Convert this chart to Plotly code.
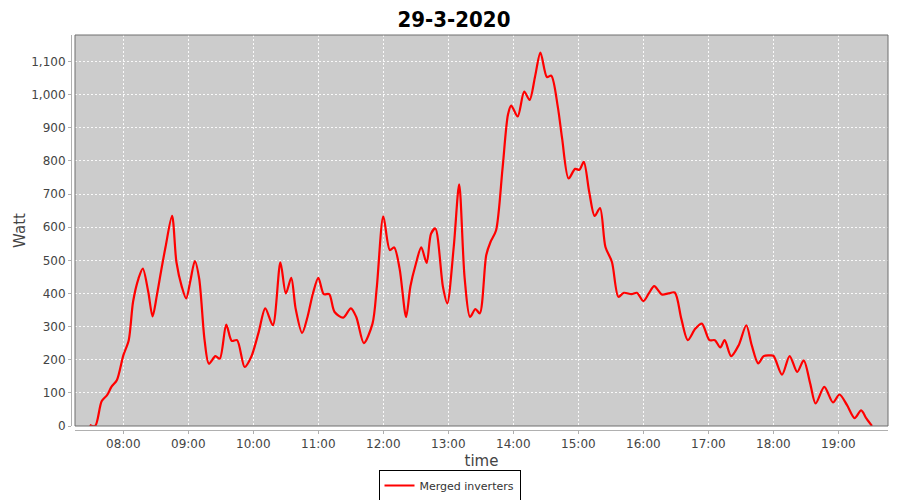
import plotly.graph_objects as go

DAY = "2020-03-29"
times = ["07:29","07:34","07:40","07:45","07:49","07:54","08:00","08:05","08:09","08:14",
         "08:18","08:23","08:27","08:31","08:35","08:39","08:45","08:49","08:54","08:58",
         "09:02","09:06","09:10","09:15","09:19","09:25","09:29","09:35","09:40","09:45",
         "09:52","09:58","10:05","10:11","10:18","10:25","10:30","10:35","10:39","10:45",
         "10:50","10:55","11:00","11:05","11:10","11:15","11:23","11:30","11:35","11:42",
         "11:50","11:54","12:00","12:06","12:10","12:15","12:21","12:25","12:30","12:35",
         "12:40","12:44","12:48","12:55","12:59","13:05","13:10","13:15","13:20","13:25",
         "13:29","13:35","13:39","13:44","13:50","13:55","13:58","14:04","14:10","14:15",
         "14:20","14:25","14:31","14:35","14:41","14:45","14:51","14:57","15:01","15:05",
         "15:10","15:15","15:20","15:25","15:31","15:37","15:42","15:49","15:54","16:00",
         "16:05","16:10","16:17","16:23","16:29","16:35","16:41","16:48","16:54","17:01",
         "17:06","17:11","17:15","17:21","17:28","17:35","17:40","17:46","17:51","17:56",
         "18:00","18:08","18:15","18:22","18:28","18:34","18:39","18:47","18:55","19:01",
         "19:08","19:15","19:21","19:26","19:31"]
watts = [3, 0, 75, 93, 118, 138, 213, 259, 375, 445,
         475, 405, 331, 395, 470, 541, 634, 495, 420, 385,
         440, 498, 445, 259, 188, 211, 203, 306, 257, 259,
         178, 208, 284, 355, 304, 494, 400, 447, 355, 281,
         329, 400, 447, 398, 398, 344, 327, 355, 329, 250,
         309, 420, 633, 531, 539, 475, 329, 422, 489, 539,
         492, 580, 596, 420, 370, 541, 729, 448, 329, 353,
         340, 516, 556, 590, 777, 939, 967, 934, 1009, 984,
         1054, 1127, 1053, 1057, 964, 868, 747, 776, 773, 797,
         707, 634, 658, 540, 495, 390, 402, 398, 402, 377,
         400, 422, 397, 400, 403, 324, 259, 294, 309, 259,
         259, 237, 259, 211, 244, 304, 244, 189, 211, 213,
         212, 155, 211, 163, 198, 128, 68, 118, 71, 95,
         63, 24, 47, 22, 0]

title_text = "29-3-2020"
series_name = "Merged inverters"
x_title = "time"
y_title = "Watt"

x = [f"{DAY} {t}:00" for t in times]

fig = go.Figure()
fig.add_trace(go.Scatter(
    x=x, y=watts, mode="lines", name=series_name,
    line=dict(color="#ff0000", width=2.2, shape="spline", smoothing=0.8),
))

tick_font = dict(family="DejaVu Sans, sans-serif", size=12, color="#444444")
W, H = 892, 492
ML, MR, MT, MB = 63, 12, 27, 70
PW = W - ML - MR
PH = H - MT - MB

fig.update_layout(
    width=W, height=H,
    paper_bgcolor="white", plot_bgcolor="#cccccc",
    margin=dict(l=ML, r=MR, t=MT, b=MB, autoexpand=False),
    title=dict(text="<b>" + title_text + "</b>", x=0.5, xanchor="center",
               y=1 - 11.5 / H, yanchor="middle",
               font=dict(family="DejaVu Sans Condensed, DejaVu Sans, sans-serif", size=22, color="black")),
    showlegend=True,
    legend=dict(orientation="h", x=(441.5 - ML) / PW, xanchor="center",
                y=-(462 - (MT + PH)) / PH, yanchor="top",
                bordercolor="black", borderwidth=1, bgcolor="white",
                font=dict(family="DejaVu Sans, sans-serif", size=11, color="#333333"),
                itemwidth=30, tracegroupgap=0),
    xaxis=dict(
        type="date", domain=[4 / PW, 1], automargin=False,
        range=[f"{DAY} 07:15:24", f"{DAY} 19:45:48"],
        tickformat="%H:%M", dtick=3600000, tick0=f"{DAY} 08:00:00",
        showgrid=True, gridcolor="rgba(255,255,255,0.9)", griddash="2px,2px", gridwidth=1,
        zeroline=False, showline=True, linecolor="#b0b0b0", linewidth=1,
        anchor="free", position=0,
        ticks="outside", ticklen=3, tickcolor="#b0b0b0",
        tickfont=tick_font,
        title=dict(text=x_title, font=dict(family="DejaVu Sans, sans-serif", size=15, color="#444444"), standoff=5),
    ),
    yaxis=dict(
        domain=[4 / PH, 1], range=[0, 1180], automargin=False,
        dtick=100, tickformat=",d",
        showgrid=True, gridcolor="rgba(255,255,255,0.9)", griddash="2px,2px", gridwidth=1,
        zeroline=False, showline=True, linecolor="#b0b0b0", linewidth=1,
        anchor="free", position=0,
        ticks="outside", ticklen=3, tickcolor="#b0b0b0",
        tickfont=tick_font,
        title=dict(text=y_title, font=dict(family="DejaVu Sans, sans-serif", size=15, color="#444444"), standoff=0),
    ),
    shapes=[dict(type="rect", xref="x domain", yref="y domain", x0=0, x1=1, y0=0, y1=1,
                 line=dict(color="#6e6e6e", width=1), fillcolor="rgba(0,0,0,0)", layer="above")],
)

fig.write_html("out.html")
